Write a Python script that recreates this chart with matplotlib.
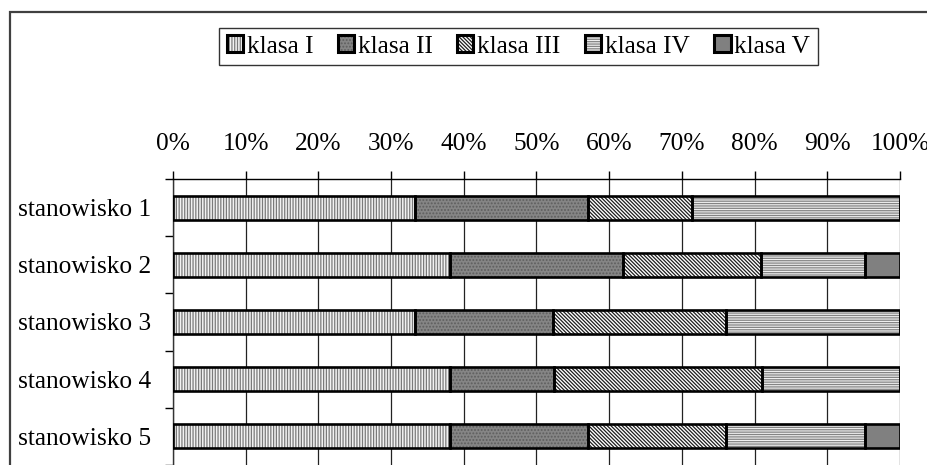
import matplotlib
matplotlib.use("Agg")
import matplotlib.pyplot as plt
from matplotlib.patches import Patch, Rectangle
from matplotlib.legend_handler import HandlerTuple
from matplotlib.ticker import FixedLocator

categories = ['stanowisko 1', 'stanowisko 2', 'stanowisko 3', 'stanowisko 4', 'stanowisko 5']
series_names = ['klasa I', 'klasa II', 'klasa III', 'klasa IV', 'klasa V']
klasa_I = [33.3, 38.1, 33.3, 38.1, 38.1]
klasa_II = [23.8, 23.8, 19.0, 14.3, 19.0]
klasa_III = [14.3, 19.0, 23.8, 28.6, 19.0]
klasa_IV = [28.6, 14.3, 23.9, 19.0, 19.1]
klasa_V = [0.0, 4.8, 0.0, 0.0, 4.8]
x_ticks = [0, 10, 20, 30, 40, 50, 60, 70, 80, 90, 100]
x_tick_labels = ['0%', '10%', '20%', '30%', '40%', '50%', '60%', '70%', '80%', '90%', '100%']

series = [klasa_I, klasa_II, klasa_III, klasa_IV, klasa_V]
styles = [
    dict(face='#f2f2f2', hatch='||||||', hc='#7a7a7a'),
    dict(face='#858585', hatch='.....', hc='#5e5e5e'),
    dict(face='#ffffff', hatch='\\\\\\\\\\\\\\\\\\', hc='#1e1e1e'),
    dict(face='#f0f0f0', hatch='-------', hc='#848484'),
    dict(face='#808080', hatch=None, hc='#808080'),
]

plt.rcParams['font.family'] = ['Liberation Serif', 'DejaVu Serif']
plt.rcParams['hatch.linewidth'] = 0.9

FS = 18.3
W, H = 928, 465
fig = plt.figure(figsize=(W / 100, H / 100), dpi=100)
ax = fig.add_axes([173 / W, 0.0, (900 - 173) / W, 1 - 179 / H])

ypos = list(range(len(categories)))
bar_h = 0.42
left = [0.0] * len(categories)
handles = []
for name, vals, st in zip(series_names, series, styles):
    ax.barh(ypos, vals, left=left, height=bar_h, color=st['face'],
            hatch=st['hatch'], edgecolor=st['hc'], linewidth=0, zorder=3)
    ax.barh(ypos, vals, left=left, height=bar_h, fill=False,
            edgecolor='black', linewidth=1.9, zorder=4)
    h1 = Patch(facecolor=st['face'], hatch=st['hatch'], edgecolor=st['hc'], linewidth=0)
    h2 = Patch(fill=False, edgecolor='black', linewidth=2.2)
    handles.append((h1, h2))
    left = [l + v for l, v in zip(left, vals)]

ax.set_xlim(0, 100)
ax.set_ylim(len(categories) - 0.5, -0.5)
ax.xaxis.tick_top()
ax.set_xticks(x_ticks)
ax.set_xticklabels(x_tick_labels, fontsize=FS)
ax.tick_params(axis='x', direction='out', length=6, width=1, color='black', pad=11.5)
ax.set_yticks(ypos)
ax.set_yticklabels(categories, fontsize=FS)
ax.tick_params(axis='y', which='major', length=0, pad=16)
ax.yaxis.set_minor_locator(FixedLocator([i + 0.5 for i in range(-1, len(categories))]))
ax.tick_params(axis='y', which='minor', length=6, width=1, color='black')
ax.grid(axis='x', color='#222222', linewidth=0.9, zorder=0)
ax.set_axisbelow(True)
for s in ['right', 'bottom']:
    ax.spines[s].set_visible(False)
ax.spines['top'].set_linewidth(1.0)
ax.spines['left'].set_linewidth(1.0)
ax.spines['left'].set_color('#333333')

# outer chart border
fig.add_artist(Rectangle((10 / W, -0.1), 1.2, 1 - 12 / H + 0.1, transform=fig.transFigure,
                         fill=False, edgecolor='#404040', linewidth=1.6, clip_on=False))

leg = fig.legend(handles, series_names, loc='center', bbox_to_anchor=(518.5 / W, 1 - 46.5 / H),
                 ncol=5, fontsize=FS, frameon=True, fancybox=False, edgecolor='black',
                 handler_map={tuple: HandlerTuple(ndivide=1, pad=0)},
                 handlelength=0.65, handleheight=0.65, handletextpad=0.15,
                 columnspacing=0.95, borderpad=0.3, borderaxespad=0)
leg.get_frame().set_linewidth(1.0)

fig.savefig('out.png', dpi=100)
